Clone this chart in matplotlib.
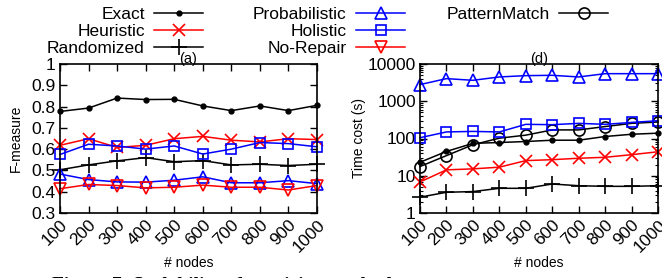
import numpy as np
from matplotlib import pyplot as plt

plt.rcParams['font.family'] = ['Liberation Sans', 'DejaVu Sans']

nodes = [100, 200, 300, 400, 500, 600, 700, 800, 900, 1000]

# (a) F-measure
f_exact = [0.777, 0.793, 0.840, 0.833, 0.834, 0.803, 0.781, 0.803, 0.781, 0.806]
f_heuristic = [0.618, 0.649, 0.608, 0.618, 0.649, 0.660, 0.642, 0.634, 0.649, 0.645]
f_randomized = [0.503, 0.526, 0.545, 0.560, 0.541, 0.546, 0.526, 0.529, 0.523, 0.529]
f_probabilistic = [0.483, 0.457, 0.446, 0.445, 0.454, 0.470, 0.442, 0.442, 0.452, 0.438]
f_holistic = [0.575, 0.623, 0.615, 0.600, 0.615, 0.577, 0.600, 0.631, 0.626, 0.611]
f_norepair = [0.414, 0.434, 0.429, 0.418, 0.421, 0.431, 0.421, 0.421, 0.408, 0.429]

# (d) time cost (s)
t_exact = [23, 45, 74, 78, 83, 90, 90, 113, 130, 139]
t_heuristic = [6.8, 14.4, 15.3, 17, 25.5, 27, 29.5, 31.3, 36.8, 44]
t_randomized = [2.66, 3.6, 3.76, 4.6, 4.6, 6.0, 5.4, 5.2, 5.2, 5.4]
t_probabilistic = [2800, 4050, 3650, 4490, 4870, 4970, 4490, 5500, 5500, 5500]
t_holistic = [105, 150, 155, 150, 240, 235, 255, 240, 270, 300]
t_patternmatch = [17.7, 34.7, 68, 102, 123, 170, 170, 209, 255, 277]

RED = '#ff0000'
BLUE = '#0000ff'
styles = {
    'Exact': dict(color='black', marker='o', ms=3.5, mfc='black'),
    'Heuristic': dict(color=RED, marker='x', ms=8, mew=1.2),
    'Randomized': dict(color='black', marker='+', ms=11, mew=1.2),
    'Probabilistic': dict(color=BLUE, marker='^', ms=8, mfc='none', mew=1.2),
    'Holistic': dict(color=BLUE, marker='s', ms=7, mfc='none', mew=1.2),
    'No-Repair': dict(color=RED, marker='v', ms=8, mfc='none', mew=1.2),
    'PatternMatch': dict(color='black', marker='o', ms=8, mfc='none', mew=1.2),
}

W, H = 662, 278
fig = plt.figure(figsize=(W / 100, H / 100), dpi=100)
ax1 = fig.add_axes([60 / W, 1 - 213 / H, 257 / W, 149 / H])
ax2 = fig.add_axes([420 / W, 1 - 213 / H, 238 / W, 149 / H])

handles = {}
series_a = [('Exact', f_exact), ('Heuristic', f_heuristic), ('Randomized', f_randomized),
            ('Probabilistic', f_probabilistic), ('Holistic', f_holistic), ('No-Repair', f_norepair)]
for name, vals in series_a:
    h, = ax1.plot(nodes, vals, lw=1.1, clip_on=False, label=name, **styles[name])
    handles[name] = h

series_d = [('Exact', t_exact), ('PatternMatch', t_patternmatch), ('Heuristic', t_heuristic),
            ('Randomized', t_randomized), ('Probabilistic', t_probabilistic), ('Holistic', t_holistic)]
for name, vals in series_d:
    h, = ax2.plot(nodes, vals, lw=1.1, clip_on=False, label=name, **styles[name])
    if name not in handles:
        handles[name] = h

tick_fs = 12.5
for ax in (ax1, ax2):
    ax.set_xlim(100, 1000)
    ax.set_xticks(nodes)
    ax.set_xticklabels([str(n) for n in nodes], rotation=45, ha='right', va='top',
                       rotation_mode='anchor', fontsize=tick_fs)
    ax.tick_params(direction='in', top=True, right=True, length=5, width=1, pad=3)
    ax.tick_params(which='minor', direction='in', top=False, right=True, length=2.5, width=0.8)
    for s in ax.spines.values():
        s.set_linewidth(1.2)
    ax.set_xlabel('# nodes', fontsize=10, labelpad=1)

ax1.set_ylim(0.3, 1.0)
ax1.set_yticks([0.3, 0.4, 0.5, 0.6, 0.7, 0.8, 0.9, 1.0])
ax1.set_yticklabels(['0.3', '0.4', '0.5', '0.6', '0.7', '0.8', '0.9', '1'], fontsize=tick_fs)
ax1.set_ylabel('F-measure', fontsize=10, labelpad=6)
ax1.set_title('(a)', fontsize=10.5, pad=1)

ax2.set_yscale('log')
ax2.set_ylim(1, 10000)
ax2.set_yticks([1, 10, 100, 1000, 10000])
ax2.set_yticklabels(['1', '10', '100', '1000', '10000'], fontsize=tick_fs)
ax2.set_ylabel('Time cost (s)', fontsize=10, labelpad=1.5)
ax2.set_title('(d)', fontsize=10.5, pad=1)

# key: three right-aligned columns, text before sample
columns = [(['Exact', 'Heuristic', 'Randomized'], 203),
           (['Probabilistic', 'Holistic', 'No-Repair'], 405),
           (['PatternMatch'], 608)]
for names, xend in columns:
    leg = fig.legend([handles[n] for n in names], names, loc='upper right',
                     bbox_to_anchor=(xend / W, 1 - 7 / H), frameon=False, markerfirst=False,
                     fontsize=12.5, handlelength=2.8, handletextpad=0.55, borderpad=0,
                     borderaxespad=0, labelspacing=0.09, numpoints=1)

fig.text(52 / W, 1 - 277 / H, 'Figure 7: Scalability of repairing methods', fontsize=14,
         fontweight='bold', family='Liberation Serif', ha='left', va='top')

fig.savefig('out.png', dpi=100)
